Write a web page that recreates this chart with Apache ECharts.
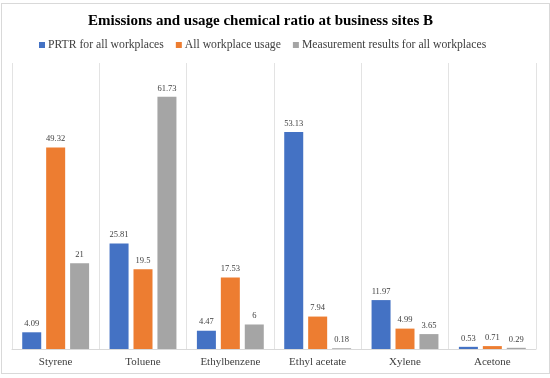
<!DOCTYPE html>
<html><head><meta charset="utf-8">
<script src="https://cdn.jsdelivr.net/npm/echarts@6/dist/echarts.min.js"></script>
<style>html,body{margin:0;padding:0;background:#fff}#c{width:550px;height:378px}#b{position:absolute;left:1px;top:3px;width:547px;height:369px;border:1px solid #d9d9d9;pointer-events:none}</style>
</head><body><div id="c"></div><div id="b"></div>
<script>
const categories = ['Styrene','Toluene','Ethylbenzene','Ethyl acetate','Xylene','Acetone'];
const seriesNames = ['PRTR for all workplaces','All workplace usage','Measurement results for all workplaces'];
const prtr = [4.09, 25.81, 4.47, 53.13, 11.97, 0.53];
const usage = [49.32, 19.5, 17.53, 7.94, 4.99, 0.71];
const measurement = [21, 61.73, 6, 0.18, 3.65, 0.29];
const colors = ['#4472C4','#ED7D31','#A5A5A5'];
const font = '"Liberation Serif","Times New Roman",serif';
const chart = echarts.init(document.getElementById('c'));
const mk = (name, data, i) => ({
  name, type:'bar', data, barWidth:19, barGap:'26%',
  itemStyle:{color:colors[i]},
  label:{show:true, position:'top', distance:4, color:'#404040', fontFamily:font, fontSize:8.5}
});
chart.setOption({
  animation:false,
  textStyle:{fontFamily:font},
  title:{text:'Emissions and usage chemical ratio at business sites B', left:83, top:9,
    textStyle:{fontFamily:font, fontWeight:'bold', fontSize:15, color:'#000'}},
  legend:{top:34, left:34, itemWidth:6, itemHeight:6, itemGap:12, icon:'rect',
    textStyle:{fontFamily:font, fontSize:11.7, color:'#404040', padding:[0,0,0,-2]}, data:seriesNames},
  grid:{left:12, right:14, top:63, bottom:29, containLabel:false},
  xAxis:{type:'category', data:categories,
    axisLine:{show:true, lineStyle:{color:'#d9d9d9'}}, axisTick:{show:false},
    splitLine:{show:true, interval:0, lineStyle:{color:'#e3e3e3'}},
    axisLabel:{color:'#404040', fontFamily:font, fontSize:11, margin:8, interval:0}},
  yAxis:{type:'value', min:0, max:70, show:false, splitLine:{show:false}},
  series:[mk(seriesNames[0], prtr, 0), mk(seriesNames[1], usage, 1), mk(seriesNames[2], measurement, 2)]
});
</script></body></html>
